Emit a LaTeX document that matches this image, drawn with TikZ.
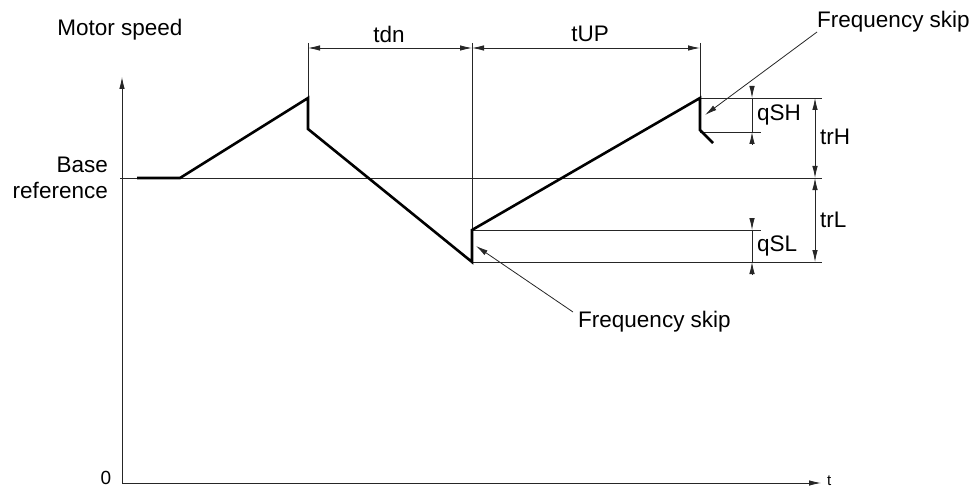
\documentclass[tikz,border=0pt]{standalone}
\usepackage{fontspec}
\setmainfont{Liberation Sans}
\usetikzlibrary{arrows.meta}
\begin{document}
\begin{tikzpicture}[x=1pt,y=-1pt,
  thin line/.style={draw=black!85,line width=0.8pt},
  curve/.style={draw=black,line width=2.6pt,line join=miter},
  tip/.style={-{Latex[length=12pt,width=5.5pt]}},
  both tips/.style={{Latex[length=12pt,width=5.5pt]}-{Latex[length=12pt,width=5.5pt]}},
  lbl/.style={font=\fontsize{22.5}{26}\selectfont,inner sep=0pt},
  small lbl/.style={font=\fontsize{19}{21}\selectfont,inner sep=0pt}]
\useasboundingbox (0,0) rectangle (973,489);
% axes
\coordinate (O) at (122,483);
\coordinate (Ytop) at (122,77);
\coordinate (Xend) at (821,483);
\draw[thin line,tip] (O) -- (Ytop);
\draw[thin line,tip] (O) -- (Xend);
\node[small lbl,anchor=center] (zero) at (106,478) {0};
\node[font=\fontsize{15}{17}\selectfont,inner sep=0pt,anchor=west] (tlab) at (827,481) {t};
\node[lbl] (ms) at (120,30) {Motor speed};
\node[lbl,align=right,anchor=east] (base) at (108,178) {Base\\reference};
% key points
\coordinate (A) at (137,178);
\coordinate (B) at (180,178);
\coordinate (P1) at (308,98);
\coordinate (P1b) at (308,129);
\coordinate (V1) at (472,262);
\coordinate (V1b) at (472,230);
\coordinate (P2) at (700,98);
\coordinate (P2b) at (700,130);
\coordinate (P2c) at (713,143);
% horizontal reference lines
\coordinate (baseL) at (120,178);
\coordinate (baseR) at (822,178);
\draw[thin line] (baseL) -- (baseR);
\coordinate (topR) at (822,98);
\draw[thin line] (P2) -- (topR);
\coordinate (qshR) at (761,132);
\coordinate (qshL) at (700,132);
\draw[thin line] (qshL) -- (qshR);
\coordinate (qslR) at (761,230);
\draw[thin line] (V1b) -- (qslR);
\coordinate (botR) at (822,262);
\draw[thin line] (V1) -- (botR);
% vertical extension lines
\coordinate (e1) at (308,43);
\coordinate (e2) at (472,43);
\coordinate (e3) at (700,43);
\draw[thin line] (e1) -- (P1);
\draw[thin line] (e2) -- (V1);
\draw[thin line] (e3) -- (P2);
% time dimensions
\coordinate (d1) at (308,48);
\coordinate (d2) at (472,48);
\coordinate (d3) at (700,48);
\draw[thin line,both tips] (d1) -- (d2);
\draw[thin line,both tips] (d2) -- (d3);
\node[lbl] (tdn) at (389,34) {tdn};
\node[lbl] (tup) at (590,34) {tUP};
% trH / trL
\coordinate (r1) at (815,98);
\coordinate (r2) at (815,178);
\coordinate (r3) at (815,262);
\draw[thin line,both tips] (r1) -- (r2);
\draw[thin line,both tips] (r2) -- (r3);
\node[lbl,anchor=west] (trh) at (820,137) {trH};
\node[lbl,anchor=west] (trl) at (820,220) {trL};
% qSH
\coordinate (h0) at (752,86);
\coordinate (h1) at (752,98);
\coordinate (h2) at (752,132);
\coordinate (h3) at (752,144);
\draw[thin line,tip] (h0) -- (h1);
\draw[thin line] (h1) -- (h2);
\draw[thin line,tip] (h3) -- (h2);
\node[lbl,anchor=west] (qsh) at (757,115) {qSH};
% qSL
\coordinate (l0) at (752,218);
\coordinate (l1) at (752,230);
\coordinate (l2) at (752,262);
\coordinate (l3) at (752,275);
\draw[thin line,tip] (l0) -- (l1);
\draw[thin line] (l1) -- (l2);
\draw[thin line,tip] (l3) -- (l2);
\node[lbl,anchor=west] (qsl) at (757,246) {qSL};
% speed curve
\draw[curve] (A) -- (B) -- (P1) -- (P1b) -- (V1) -- (V1b) -- (P2) -- (P2b) -- (P2c);
% frequency skip labels
\node[lbl,anchor=west] (fs1) at (817,22) {Frequency skip};
\coordinate (fs1s) at (817,32);
\coordinate (fs1t) at (705,115);
\draw[thin line,tip] (fs1s) -- (fs1t);
\node[lbl,anchor=west] (fs2) at (578,322) {Frequency skip};
\coordinate (fs2s) at (573,312);
\coordinate (fs2t) at (476,246);
\draw[thin line,tip] (fs2s) -- (fs2t);
\end{tikzpicture}
\end{document}
